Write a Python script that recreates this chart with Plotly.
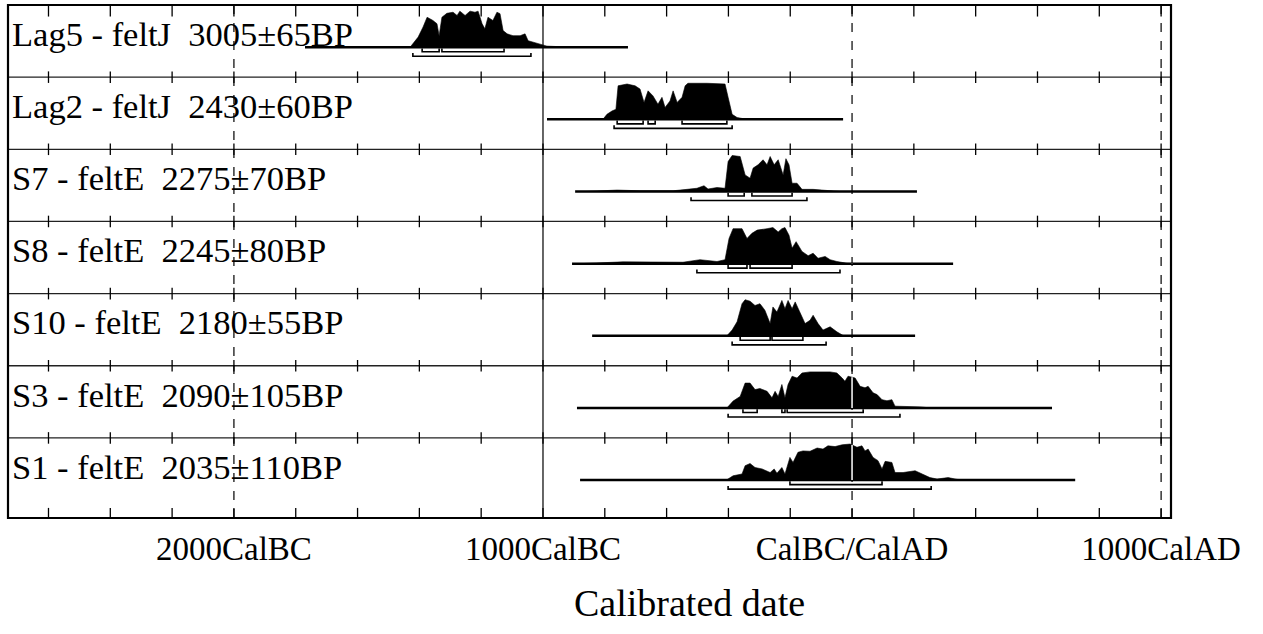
import numpy as np
import plotly.graph_objects as go

# ---------------- data ----------------
X_MIN, X_MAX = -2731, 1032
axis_tick_vals = [-2000, -1000, 0, 1000]
axis_tick_text = ["2000CalBC", "1000CalBC", "CalBC/CalAD", "1000CalAD"]
minor_tick_vals = list(range(-2600, 1001, 200))
x_title = "Calibrated date"

labels = [
    "Lag5 - feltJ \u00a03005±65BP",
    "Lag2 - feltJ \u00a02430±60BP",
    "S7 - feltE \u00a02275±70BP",
    "S8 - feltE \u00a02245±80BP",
    "S10 - feltE \u00a02180±55BP",
    "S3 - feltE \u00a02090±105BP",
    "S1 - feltE \u00a02035±110BP",
]

lag5_years = [-1430, -1421, -1404, -1388, -1375, -1366, -1356, -1343, -1336, -1327, -1311, -1291,
              -1278, -1269, -1252, -1236, -1220, -1210, -1197, -1188, -1178, -1162, -1149, -1139,
              -1129, -1116, -1097, -1074, -1058, -1048, -1032, -1010, -987, -960, -900, -850]
lag5_prob = [0, 0.09, 0.28, 0.56, 0.83, 0.79, 0.74, 0.65, 0.32, 0.83, 0.94, 0.97,
             0.88, 1.0, 0.88, 1.0, 0.97, 1.0, 0.65, 0.51, 0.83, 0.74, 0.97, 0.93,
             0.46, 0.37, 0.32, 0.32, 0.37, 0.18, 0.14, 0.07, 0.03, 0.02, 0.01, 0]
lag5_span = [-1770, -725]
lag5_sig1 = [(-1391, -1336), (-1327, -1126)]
lag5_sig2 = [(-1421, -1039)]

lag2_years = [-806, -793, -777, -764, -757, -728, -702, -686, -673, -660, -644, -628, -615,
              -605, -589, -579, -566, -550, -540, -531, -469, -411, -401, -388, -372, -340]
lag2_prob = [0, 0.14, 0.23, 0.28, 0.93, 0.98, 0.93, 0.84, 0.47, 0.79, 0.65, 0.42, 0.61,
             0.33, 0.51, 0.79, 0.47, 0.61, 0.93, 1.0, 1.0, 0.98, 0.61, 0.14, 0.05, 0]
lag2_span = [-987, -29]
lag2_sig1 = [(-760, -676), (-660, -637), (-550, -405)]
lag2_sig2 = [(-770, -388)]

s7_years = [-860, -760, -686, -579, -534, -502, -479, -466, -437, -411, -401, -388, -362, -346,
            -330, -320, -304, -288, -275, -265, -252, -239, -223, -214, -204, -194, -178, -162,
            -126, -81, -40]
s7_prob = [0, 0.04, 0.02, 0.02, 0.06, 0.09, 0.16, 0.07, 0.11, 0.09, 0.83, 1.0, 0.97, 0.46,
           0.37, 0.65, 0.74, 0.88, 0.74, 0.97, 0.74, 0.88, 0.46, 0.91, 0.74, 0.23, 0.23, 0.06,
           0.06, 0.02, 0]
s7_span = [-896, 210]
s7_sig1 = [(-401, -349), (-324, -194)]
s7_sig2 = [(-521, -146)]

s8_years = [-880, -741, -547, -492, -437, -411, -398, -385, -356, -340, -324, -307, -275, -256,
            -239, -227, -217, -204, -194, -181, -162, -142, -126, -110, -87, -71, -49, -16, 20]
s8_prob = [0, 0.05, 0.04, 0.11, 0.06, 0.11, 0.7, 0.97, 0.97, 0.7, 0.84, 0.93, 0.97, 1.0,
           0.88, 0.97, 1.0, 0.79, 0.43, 0.61, 0.34, 0.22, 0.29, 0.15, 0.2, 0.11, 0.06, 0.01, 0]
s8_span = [-906, 327]
s8_sig1 = [(-401, -340), (-330, -194)]
s8_sig2 = [(-502, -39)]

s10_years = [-405, -388, -372, -356, -346, -330, -314, -298, -282, -265, -256, -243, -227, -217,
             -207, -194, -184, -168, -152, -136, -126, -110, -94, -71, -49, -29, 0]
s10_prob = [0, 0.16, 0.39, 0.89, 1.0, 0.96, 0.84, 0.89, 0.71, 0.34, 0.8, 0.66, 0.98, 0.75,
            0.98, 0.75, 0.94, 0.66, 0.34, 0.43, 0.57, 0.34, 0.16, 0.25, 0.11, 0.01, 0]
s10_span = [-841, 204]
s10_sig1 = [(-362, -265), (-259, -159)]
s10_sig2 = [(-388, -84)]

s3_years = [-405, -385, -362, -346, -330, -314, -298, -275, -259, -249, -239, -227, -217, -207,
            -194, -178, -162, -136, -71, -49, -32, -23, -13, 10, 26, 42, 52, 68, 81, 97, 113,
            129, 139, 165, 220, 243, 300]
s3_prob = [0, 0.19, 0.32, 0.69, 0.69, 0.51, 0.54, 0.46, 0.28, 0.46, 0.32, 0.65, 0.28, 0.65,
           0.88, 0.83, 0.97, 1.0, 1.0, 0.97, 0.83, 0.74, 0.88, 0.83, 0.6, 0.56, 0.6, 0.42, 0.37,
           0.23, 0.2, 0.23, 0.05, 0.05, 0.03, 0.01, 0]
s3_span = [-890, 647]
s3_sig1 = [(-353, -307), (-227, -217), (-210, 36)]
s3_sig2 = [(-401, 155)]

s1_years = [-589, -405, -385, -356, -346, -330, -314, -291, -265, -252, -243, -227, -217, -201,
            -191, -175, -159, -136, -113, -94, -78, -55, -32, -6, 16, 32, 42, 52, 68, 84, 97,
            107, 129, 139, 165, 204, 227, 252, 275, 311, 340, 380]
s1_prob = [0, 0.01, 0.12, 0.17, 0.4, 0.46, 0.35, 0.31, 0.21, 0.31, 0.19, 0.35, 0.17, 0.63,
           0.49, 0.77, 0.81, 0.8, 0.89, 0.86, 0.95, 0.93, 0.98, 1.0, 0.91, 0.95, 0.81, 0.86,
           0.63, 0.54, 0.31, 0.52, 0.49, 0.21, 0.21, 0.26, 0.17, 0.07, 0.03, 0.07, 0.02, 0]
s1_span = [-880, 722]
s1_sig1 = [(-201, 97)]
s1_sig2 = [(-401, 256)]

rows = [
    dict(years=lag5_years, prob=lag5_prob, span=lag5_span, sig1=lag5_sig1, sig2=lag5_sig2),
    dict(years=lag2_years, prob=lag2_prob, span=lag2_span, sig1=lag2_sig1, sig2=lag2_sig2),
    dict(years=s7_years, prob=s7_prob, span=s7_span, sig1=s7_sig1, sig2=s7_sig2),
    dict(years=s8_years, prob=s8_prob, span=s8_span, sig1=s8_sig1, sig2=s8_sig2),
    dict(years=s10_years, prob=s10_prob, span=s10_span, sig1=s10_sig1, sig2=s10_sig2),
    dict(years=s3_years, prob=s3_prob, span=s3_span, sig1=s3_sig1, sig2=s3_sig2),
    dict(years=s1_years, prob=s1_prob, span=s1_span, sig1=s1_sig1, sig2=s1_sig2),
]

# ---------------- layout constants ----------------
N = len(rows)
Y_BOTTOM = -0.11
BASE_OFF = 0.585     # baseline below the row top
PEAK = 0.5           # height of the highest probability
SIG1_OFF = 0.062
SIG2_OFF = 0.125
BR_TICK = 0.045
FONT = "Liberation Serif"

fig = go.Figure()
shapes = []
annotations = []

# grid / frame decorations
for xv in axis_tick_vals:
    shapes.append(dict(type="line", xref="x", yref="y", x0=xv, x1=xv, y0=Y_BOTTOM, y1=N,
                       line=dict(color="black", width=1.2,
                                 dash="solid" if xv == -1000 else "dash"),
                       layer="below"))
for k in range(1, N):
    shapes.append(dict(type="line", xref="paper", yref="y", x0=0, x1=1, y0=k, y1=k,
                       line=dict(color="#222", width=1.3), layer="below"))
    for tv in minor_tick_vals:
        shapes.append(dict(type="line", xref="x", yref="y", x0=tv, x1=tv, y0=k - 0.08, y1=k + 0.08,
                           line=dict(color="black", width=1.3), layer="below"))
for tv in minor_tick_vals:
    shapes.append(dict(type="line", xref="x", yref="y", x0=tv, x1=tv, y0=N, y1=N - 0.16,
                       line=dict(color="black", width=1.3), layer="below"))
    shapes.append(dict(type="line", xref="x", yref="y", x0=tv, x1=tv, y0=Y_BOTTOM, y1=Y_BOTTOM + 0.14,
                       line=dict(color="black", width=1.3), layer="below"))
shapes.append(dict(type="rect", xref="paper", yref="paper", x0=0, x1=1, y0=0, y1=1,
                   line=dict(color="black", width=2.2)))

for k, r in enumerate(rows):
    top = N - k
    base = top - BASE_OFF
    yrs = np.array(r["years"], dtype=float)
    pr = np.array(r["prob"], dtype=float)
    # baseline
    fig.add_trace(go.Scatter(x=r["span"], y=[base, base], mode="lines",
                             line=dict(color="black", width=2.5), hoverinfo="skip", showlegend=False))
    # distribution
    px = np.concatenate([yrs, yrs[::-1]])
    py = np.concatenate([base + PEAK * pr, np.full(len(yrs), base)])
    fig.add_trace(go.Scatter(x=px, y=py, mode="lines", fill="toself", fillcolor="black",
                             line=dict(color="black", width=0.6), hoverinfo="skip", showlegend=False))
    # brackets
    bx, by = [], []
    for off, segs in ((SIG1_OFF, r["sig1"]), (SIG2_OFF, r["sig2"])):
        yl = base - off
        for a, b in segs:
            bx += [a, a, b, b, None]
            by += [yl + BR_TICK, yl, yl, yl + BR_TICK, None]
    fig.add_trace(go.Scatter(x=bx, y=by, mode="lines", line=dict(color="black", width=1.6),
                             hoverinfo="skip", showlegend=False))
    # white zero line through the fill
    if yrs.min() < 0 < yrs.max():
        h0 = float(np.interp(0, yrs, pr))
        shapes.append(dict(type="line", xref="x", yref="y", x0=0, x1=0, y0=base,
                           y1=base + PEAK * h0, line=dict(color="white", width=1.5), layer="above"))
    annotations.append(dict(text=labels[k], xref="paper", yref="y", x=0.0, y=top - 0.40,
                            xanchor="left", yanchor="middle", showarrow=False, xshift=2,
                            font=dict(family=FONT, size=34.5, color="black")))

annotations.append(dict(text=x_title, xref="paper", yref="paper", x=0.5856, y=-0.165,
                        xanchor="center", yanchor="middle", showarrow=False,
                        font=dict(family=FONT, size=38, color="black")))

fig.update_layout(
    width=1263, height=634,
    margin=dict(l=8, r=92, t=5, b=116),
    paper_bgcolor="white", plot_bgcolor="white",
    shapes=shapes, annotations=annotations,
    xaxis=dict(range=[X_MIN, X_MAX], showgrid=False, zeroline=False, showline=False,
               tickvals=axis_tick_vals, ticktext=axis_tick_text, ticks="",
               tickfont=dict(family=FONT, size=33, color="black"), ticklabelstandoff=8,
               fixedrange=True),
    yaxis=dict(range=[Y_BOTTOM, N], showgrid=False, zeroline=False, showline=False,
               showticklabels=False, ticks="", fixedrange=True),
    showlegend=False,
)

fig.write_html("out.html", config={"displayModeBar": False},
               post_script="document.body.style.margin='0px';")
